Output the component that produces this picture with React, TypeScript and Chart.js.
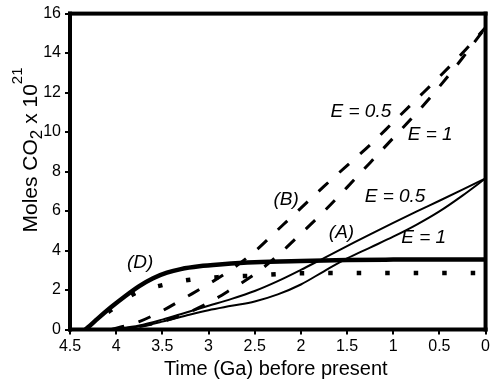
import React, { useEffect, useRef } from 'react';
import { Chart, registerables } from 'chart.js';

Chart.register(...registerables);

// ---- data (Ga before present, moles CO2 x 10^21) ----
const xTickValues = [4.5, 4, 3.5, 3, 2.5, 2, 1.5, 1, 0.5, 0];
const yTickValues = [0, 2, 4, 6, 8, 10, 12, 14, 16];

const gaD = [4.33, 4.2, 4.05, 3.9, 3.75, 3.6, 3.45, 3.3, 3.1, 2.85, 2.5, 2.0, 1.5, 1.0, 0.5, 0];
const molesD = [0, 0.55, 1.15, 1.7, 2.2, 2.6, 2.88, 3.06, 3.2, 3.3, 3.4, 3.47, 3.52, 3.54, 3.55, 3.55];

const gaDotted = [4.33, 4.2, 4.05, 3.8, 3.5, 3.2, 2.9, 2.55, 2.25, 2.0, 1.5, 1.0, 0.5, 0];
const molesDotted = [0, 0.52, 1.0, 1.83, 2.25, 2.52, 2.65, 2.72, 2.8, 2.85, 2.86, 2.86, 2.86, 2.86];

const gaCurves = [4.05, 3.75, 3.5, 3.25, 3.0, 2.75, 2.5, 2.25, 2.0, 1.75, 1.5, 1.25, 1.0, 0.75, 0.5, 0.25, 0];
const molesB05 = [0, 0.4, 0.95, 1.62, 2.3, 3.05, 3.95, 5.05, 6.15, 7.25, 8.3, 9.35, 10.5, 11.65, 12.8, 14.0, 15.3];
const molesB1 = [0, 0.15, 0.4, 0.8, 1.35, 2.05, 2.8, 3.75, 4.85, 5.98, 7.2, 8.45, 9.7, 10.95, 12.3, 13.75, 15.3];
const molesA05 = [0, 0.2, 0.5, 0.85, 1.2, 1.55, 1.95, 2.45, 3.02, 3.62, 4.22, 4.82, 5.4, 5.97, 6.52, 7.08, 7.65];
const molesA1 = [0, 0.15, 0.4, 0.7, 0.98, 1.2, 1.42, 1.78, 2.28, 2.95, 3.6, 4.15, 4.7, 5.3, 5.98, 6.78, 7.65];

// annotation labels placed in data coordinates
const annoText = ['(D)', '(B)', '(A)', 'E = 0.5', 'E = 1', 'E = 0.5', 'E = 1'];
const annoGa = [3.74, 2.16, 1.56, 0.98, 0.67, 1.35, 0.6];
const annoMoles = [3.36, 6.55, 4.88, 6.7, 4.63, 11.05, 9.88];

const FONT = '"Liberation Sans", Arial, Helvetica, sans-serif';

const pts = (xs: number[], ys: number[]) => xs.map((x, i) => ({ x, y: ys[i] }));

const decorPlugin = {
  id: 'decor',
  afterDraw(chart: any) {
    const ctx: CanvasRenderingContext2D = chart.ctx;
    const area = chart.chartArea;
    const xs = chart.scales.x;
    const ys = chart.scales.y;
    ctx.save();
    ctx.fillStyle = '#000000';
    // frame (4px, centred on the plot edges)
    const w = 4;
    const L = area.left, R = area.right, T = area.top, B = area.bottom;
    ctx.fillRect(L - w / 2, T - w / 2, R - L + w, w);
    ctx.fillRect(L - w / 2, B - w / 2, R - L + w, w);
    ctx.fillRect(L - w / 2, T - w / 2, w, B - T + w);
    ctx.fillRect(R - w / 2, T - w / 2, w, B - T + w);
    // annotations
    ctx.font = `italic 19px ${FONT}`;
    ctx.textAlign = 'center';
    ctx.textBaseline = 'middle';
    annoText.forEach((t, i) => {
      ctx.fillText(t, xs.getPixelForValue(annoGa[i]), ys.getPixelForValue(annoMoles[i]));
    });
    // x title
    ctx.font = `20px ${FONT}`;
    ctx.textBaseline = 'alphabetic';
    ctx.fillText('Time (Ga) before present', (L + R) / 2 - 2, 375);
    // y title with sub/superscript
    const parts = [
      { t: 'Moles CO', f: `21px ${FONT}`, dy: 0 },
      { t: '2', f: `17px ${FONT}`, dy: 5 },
      { t: ' x 10', f: `21px ${FONT}`, dy: 0 },
      { t: '21', f: `15px ${FONT}`, dy: -15 },
    ];
    let total = 0;
    parts.forEach((p) => {
      ctx.font = p.f;
      total += ctx.measureText(p.t).width;
    });
    ctx.translate(37, 150 + total / 2);
    ctx.rotate(-Math.PI / 2);
    ctx.textAlign = 'left';
    let x = 0;
    parts.forEach((p) => {
      ctx.font = p.f;
      ctx.fillText(p.t, x, p.dy);
      x += ctx.measureText(p.t).width;
    });
    ctx.restore();
  },
};

export default function App() {
  const ref = useRef<HTMLCanvasElement | null>(null);
  useEffect(() => {
    document.body.style.margin = '0';
    if (!ref.current) return;
    Chart.defaults.font.family = FONT;
    const base = { pointRadius: 0, borderColor: '#000', fill: false, cubicInterpolationMode: 'monotone' as const };
    const chart = new Chart(ref.current, {
      type: 'line',
      data: {
        datasets: [
          { ...base, label: 'D', data: pts(gaD, molesD), borderWidth: 4.5 },
          { ...base, label: 'C', data: pts(gaDotted, molesDotted), borderWidth: 4.5, borderDash: [4.5, 24], borderCapStyle: 'butt' },
          { ...base, label: 'B E=0.5', data: pts(gaCurves, molesB05), borderWidth: 3, borderDash: [13, 15] },
          { ...base, label: 'B E=1', data: pts(gaCurves, molesB1), borderWidth: 3, borderDash: [13, 15] },
          { ...base, label: 'A E=0.5', data: pts(gaCurves, molesA05), borderWidth: 2 },
          { ...base, label: 'A E=1', data: pts(gaCurves, molesA1), borderWidth: 2 },
        ],
      },
      options: {
        animation: false,
        responsive: true,
        maintainAspectRatio: false,
        layout: { padding: { top: 13, right: 4, left: 0, bottom: 0 } },
        plugins: { legend: { display: false }, tooltip: { enabled: false } },
        scales: {
          x: {
            type: 'linear',
            reverse: true,
            min: 0,
            max: 4.5,
            afterFit: (s: any) => { s.height = 51.5; },
            afterBuildTicks: (s: any) => { s.ticks = xTickValues.map((v) => ({ value: v })); },
            ticks: { callback: (v: any) => `${v}`, autoSkip: false, maxRotation: 0, color: '#000', font: { size: 16 }, padding: 2 },
            grid: { drawOnChartArea: false, drawTicks: true, tickLength: 5, color: '#000', lineWidth: 2 },
            border: { display: false },
          },
          y: {
            type: 'linear',
            min: 0,
            max: 16,
            afterFit: (s: any) => { s.width = 70; },
            afterBuildTicks: (s: any) => { s.ticks = yTickValues.map((v) => ({ value: v })); },
            ticks: { callback: (v: any) => `${v}`, color: '#000', font: { size: 16 }, padding: 4 },
            grid: { drawOnChartArea: false, drawTicks: true, tickLength: 5, color: '#000', lineWidth: 2 },
            border: { display: false },
          },
        },
      },
      plugins: [decorPlugin],
    });
    return () => chart.destroy();
  }, []);
  return (
    <div style={{ width: 492, height: 381, position: 'relative' }}>
      <canvas ref={ref} />
    </div>
  );
}
